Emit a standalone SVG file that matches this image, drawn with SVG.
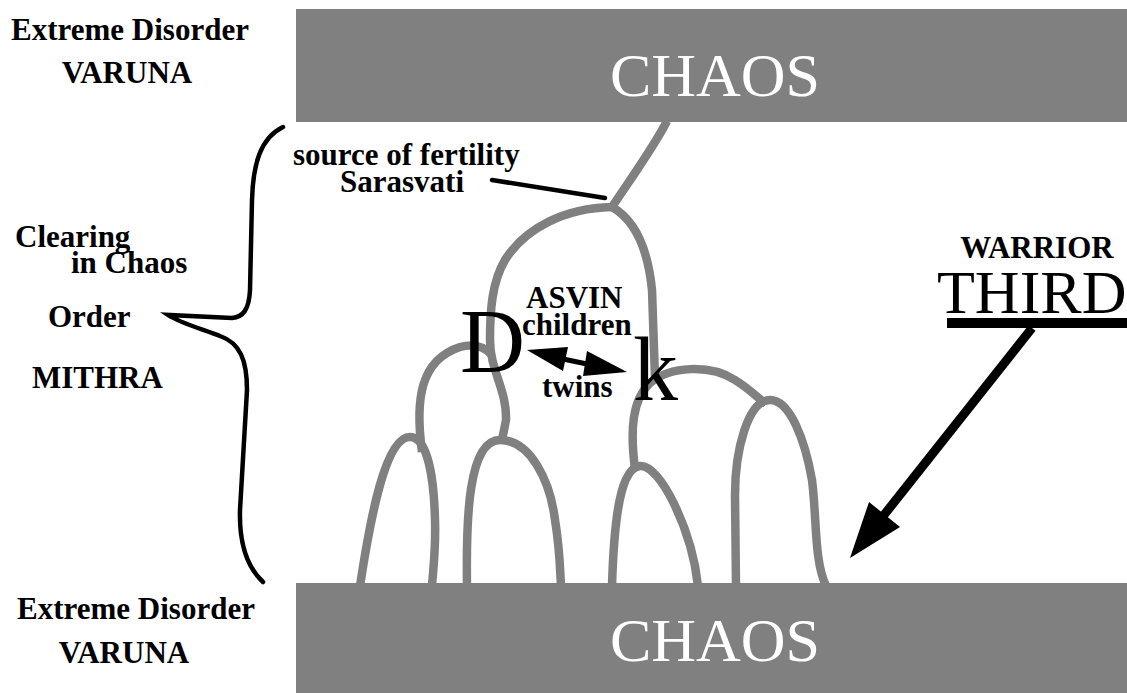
<svg xmlns="http://www.w3.org/2000/svg" width="1127" height="693" viewBox="0 0 1127 693">
<style>
text{font-family:'Liberation Serif','Times New Roman',Times,'DejaVu Serif',serif}
.lbl{font-weight:bold;font-size:31px;fill:#000}
.big{font-weight:normal;fill:#000}
.chaos{font-size:62px;fill:#fff;text-anchor:middle}
.box{fill:#808080}
.tree{fill:none;stroke:#808080;stroke-width:8.5;stroke-linecap:butt;stroke-linejoin:round}
.blk{fill:none;stroke:#000;stroke-width:4.5;stroke-linecap:round}
</style>
<rect width="1127" height="693" fill="#fff"/>
<g id="chaos-top"><rect class="box" x="296" y="9" width="831" height="113"/><text class="chaos" x="715" y="96">CHAOS</text></g>
<g id="chaos-bottom"><rect class="box" x="296" y="583" width="831" height="110"/><text class="chaos" x="715" y="661">CHAOS</text></g>
<g id="varuna-top"><text class="lbl" x="130" y="40" text-anchor="middle">Extreme Disorder</text><text class="lbl" x="127" y="83" text-anchor="middle">VARUNA</text></g>
<g id="varuna-bottom"><text class="lbl" x="136" y="619" text-anchor="middle">Extreme Disorder</text><text class="lbl" x="124" y="663" text-anchor="middle">VARUNA</text></g>
<g id="mithra"><text class="lbl" x="15" y="247">Clearing</text><text class="lbl" x="71" y="273">in Chaos</text><text class="lbl" x="48" y="327">Order</text><text class="lbl" x="32" y="388">MITHRA</text></g>
<g id="sarasvati"><text class="lbl" x="293" y="165">source of fertility</text><text class="lbl" x="340" y="192">Sarasvati</text></g>
<g id="asvin"><text class="lbl" x="526" y="308">ASVIN</text><text class="lbl" x="522" y="335">children</text><text class="lbl" x="542" y="397">twins</text></g>
<g id="warrior"><text class="lbl" x="1037" y="258" text-anchor="middle" font-size="29">WARRIOR</text><text class="big" x="937" y="313" font-size="62">THIRD</text><rect x="947" y="318" width="180" height="10" fill="#000"/></g>
<g id="connectors">
<path class="tree" d="M667,121 C655,145 630,180 612,207"/>
<path class="tree" d="M612,207 C565,208 525,228 505,260 C492,282 490,310 490,340 C490,370 507,390 506,420 L502,440"/>
<path class="tree" d="M612,207 C635,220 648,250 652,290 L655,378"/>
<path class="tree" d="M635,469 C630,430 632,400 650,383 C670,366 710,364 735,380 C748,388 756,396 766,404"/>
<path class="tree" d="M736,586 L735,495 C735,450 748,400 770,400 C790,400 805,440 812,480 C817,520 814,560 826,586"/>
<path class="tree" d="M612,586 C614,520 620,468 640,466 C660,464 692,530 698,586"/>
<path class="tree" d="M467,586 C466,520 468,440 500,440 C530,440 550,480 555,520 C560,550 560,570 561,586"/>
<path class="tree" d="M360,586 C370,520 385,437 410,437 C428,437 434,480 435,520 C436,550 433,570 432,586"/>
<path class="tree" d="M422,452 C415,400 420,360 460,347 C475,343 485,347 492,355"/>
<path class="blk" d="M283,127 C260,138 253,165 252,200 L250,290 C249,310 243,317 232,318 L168,315 C180,323 205,330 220,336 C240,343 247,360 247,390 L240,510 C239,545 248,568 263,582"/>
<path class="blk" d="M492,180 L605,198"/>
<line x1="563" y1="359" x2="587" y2="364" stroke="#000" stroke-width="5"/>
<polygon points="527,350 568,347 563,371" fill="#000"/>
<polygon points="627,372 587,351 583,376" fill="#000"/>
<line x1="1032" y1="328" x2="884" y2="515" stroke="#000" stroke-width="9"/>
<polygon points="850,558 900,527 869,502" fill="#000"/>
</g>
<g id="twins-letters"><text class="big" x="460" y="372" font-size="90">D</text><text class="big" x="633" y="400" font-size="90">k</text></g>
</svg>
